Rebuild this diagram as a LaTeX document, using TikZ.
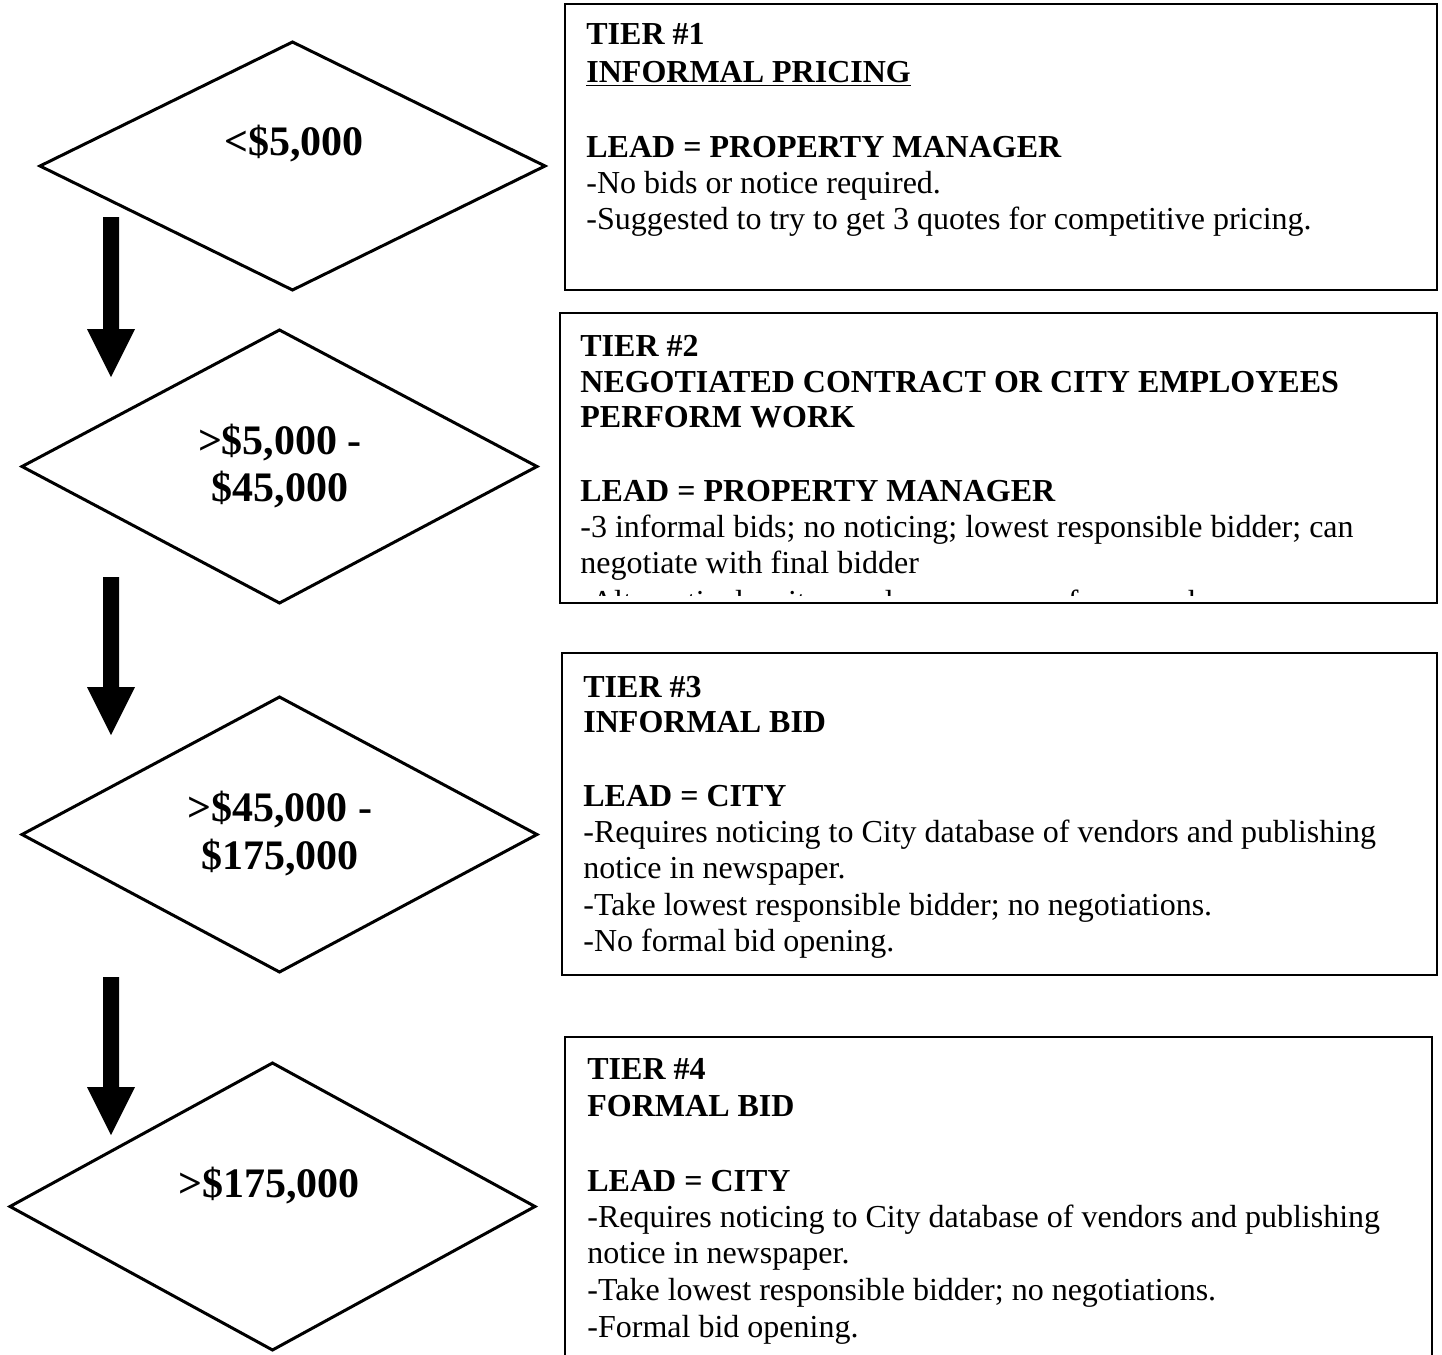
\documentclass[tikz,border=0pt]{standalone}
\usepackage{fontspec}
\setmainfont{Liberation Serif}
\usetikzlibrary{shapes.geometric}
\tikzset{
  diam/.style={draw, diamond, line width=1.5pt, inner sep=0pt, outer sep=0pt},
  dtxt/.style={inner sep=0pt, anchor=base, font=\fontsize{21}{24}\selectfont\bfseries},
  tierbox/.style={draw, line width=1.2pt},
  body/.style={inner sep=0pt, anchor=base west, font=\fontsize{16}{18}\selectfont},
  head/.style={body, font=\fontsize{16}{18}\selectfont\bfseries},
  blockarrow/.style={fill=black}
}
\newcommand\barrow[3]{% x, ytop, ytip
  \fill[blockarrow] ({#1-8},#2) -- ({#1+8},#2) -- ({#1+8},{#3-48}) -- ({#1+24},{#3-48})
    -- (#1,#3) -- ({#1-24},{#3-48}) -- ({#1-8},{#3-48}) -- cycle;}
\begin{document}
\begin{tikzpicture}[x=0.5pt,y=-0.5pt]
\useasboundingbox (0,0) rectangle (1442,1355);

% diamonds
\node[diam, minimum width=252.5pt, minimum height=124pt] (d1) at (292.5,166) {};
\node[diam, minimum width=257.5pt, minimum height=136.5pt] (d2) at (279.5,466.5) {};
\node[diam, minimum width=257.5pt, minimum height=137.5pt] (d3) at (279.5,834.5) {};
\node[diam, minimum width=262.5pt, minimum height=143.5pt] (d4) at (272.5,1206.5) {};

\node[dtxt] (d1a) at (294,155) {<\$5,000};
\node[dtxt] (d2a) at (280,454) {>\$5,000 -};
\node[dtxt] (d2b) at (280,501) {\$45,000};
\node[dtxt] (d3a) at (280,821) {>\$45,000 -};
\node[dtxt] (d3b) at (280,869) {\$175,000};
\node[dtxt] (d4a) at (269,1197) {>\$175,000};

% block arrows
\barrow{111}{217}{377}
\barrow{111}{577}{735}
\barrow{111}{977}{1135}

% box 1
\draw[tierbox] (565,4) rectangle (1437,290);
\node[head] (b1a) at (586,44) {TIER \#1};
\node[head] (b1b) at (586,82) {\underline{INFORMAL PRICING}};
\node[head] (b1c) at (586,157) {LEAD = PROPERTY MANAGER};
\node[body] (b1d) at (586,193) {-No bids or notice required.};
\node[body] (b1e) at (586,229) {-Suggested to try to get 3 quotes for competitive pricing.};

% box 2
\draw[tierbox] (560,313) rectangle (1437,603);
\node[head] (b2a) at (580,356) {TIER \#2};
\node[head] (b2b) at (580,392) {NEGOTIATED CONTRACT OR CITY EMPLOYEES};
\node[head] (b2c) at (580,427) {PERFORM WORK};
\node[head] (b2d) at (580,501) {LEAD = PROPERTY MANAGER};
\node[body] (b2e) at (580,537) {-3 informal bids; no noticing; lowest responsible bidder; can};
\node[body] (b2f) at (580,573) {negotiate with final bidder};
\begin{scope}
  \clip (562,315) rectangle (1435,595);
  \node[body] (b2g) at (580,612) {-Alternatively, city employees can perform work};
\end{scope}

% box 3
\draw[tierbox] (562,653) rectangle (1437,975);
\node[head] (b3a) at (583,697) {TIER \#3};
\node[head] (b3b) at (583,732) {INFORMAL BID};
\node[head] (b3c) at (583,806) {LEAD = CITY};
\node[body] (b3d) at (583,842) {-Requires noticing to City database of vendors and publishing};
\node[body] (b3e) at (583,878) {notice in newspaper.};
\node[body] (b3f) at (583,915) {-Take lowest responsible bidder; no negotiations.};
\node[body] (b3g) at (583,951) {-No formal bid opening.};

% box 4 (open at the bottom)
\draw[tierbox] (565,1355) -- (565,1037) -- (1432,1037) -- (1432,1355);
\node[head] (b4a) at (587,1079) {TIER \#4};
\node[head] (b4b) at (587,1116) {FORMAL BID};
\node[head] (b4c) at (587,1191) {LEAD = CITY};
\node[body] (b4d) at (587,1227) {-Requires noticing to City database of vendors and publishing};
\node[body] (b4e) at (587,1263) {notice in newspaper.};
\node[body] (b4f) at (587,1300) {-Take lowest responsible bidder; no negotiations.};
\node[body] (b4g) at (587,1337) {-Formal bid opening.};
\end{tikzpicture}
\end{document}
